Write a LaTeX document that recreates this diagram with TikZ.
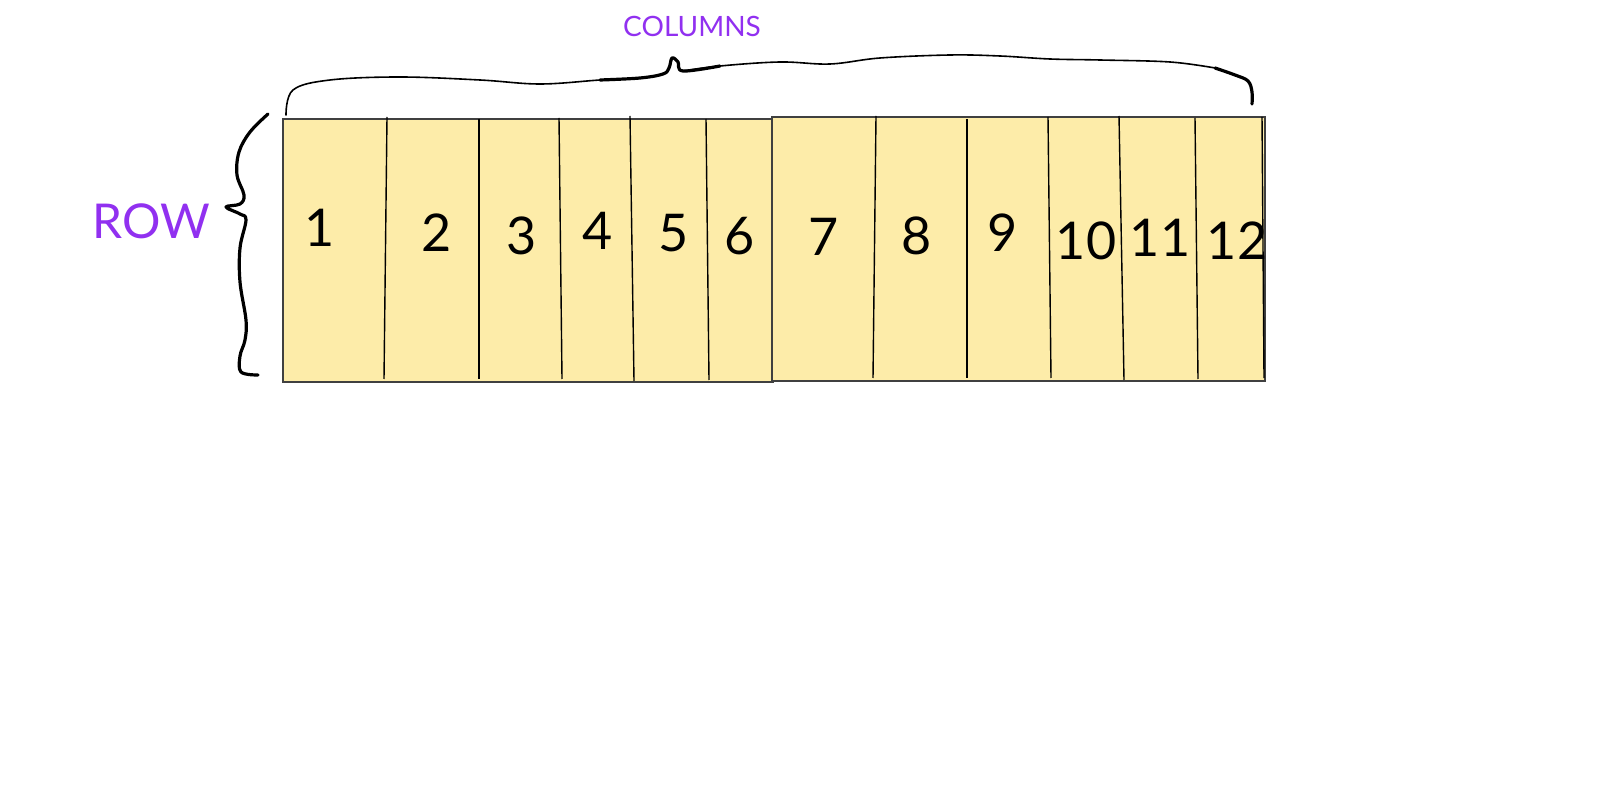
\documentclass[tikz,border=0pt]{standalone}
\usepackage{fontspec}
\setmainfont{Lato}
\definecolor{cellyellow}{HTML}{FDECA9}
\definecolor{labelpurple}{HTML}{9130F0}
\begin{document}
\begin{tikzpicture}[x=0.5pt,y=-0.5pt,
  cell/.style={fill=cellyellow,draw=black!75,line width=0.6pt},
  divider/.style={draw=black,line width=0.7pt},
  num/.style={font=\fontsize{26}{26}\selectfont,text=black,inner sep=0pt},
  lbl/.style={text=labelpurple,inner sep=0pt},
  brace/.style={draw=black,line width=0.8pt,line cap=round,line join=round},
  bracethick/.style={draw=black,line width=1.6pt,line cap=round,line join=round}]
\useasboundingbox (0,0) rectangle (1600,796);
% boxes
\path[cell] (283,119) rectangle (773,382);
\path[cell] (772,117) rectangle (1265,381);
% dividers
\draw[divider] (387,117) -- (384,379);
\draw[divider] (479,119) -- (479,379);
\draw[divider] (559,118) -- (562,379);
\draw[divider] (630,116) -- (634,381);
\draw[divider] (706,119) -- (709,380);
\draw[divider] (876,116) -- (873,378);
\draw[divider] (967,119) -- (967,378);
\draw[divider] (1048,117) -- (1051,378);
\draw[divider] (1119,116) -- (1124,380);
\draw[divider] (1195,118) -- (1198,379);
\draw[divider] (1262,117) -- (1264,378);
% numbers
\node[num] (n1) at (320,228) {1};
\node[num] (n2) at (437,233) {2};
\node[num] (n3) at (522,236) {3};
\node[num] (n4) at (598,231) {4};
\node[num] (n5) at (674,233) {5};
\node[num] (n6) at (740,236) {6};
\node[num] (n7) at (824,237) {7};
\node[num] (n8) at (917,236) {8};
\node[num] (n9) at (1003,233) {9};
\node[num] (n10) at (1086,241) {10};
\node[num] (n11) at (1160,238) {11};
\node[num] (n12) at (1237,241) {12};
% labels
\node[lbl,font=\fontsize{24}{24}\selectfont] (row) at (151,221) {ROW};
\node[lbl,font=\fontsize{14}{14}\selectfont] (cols) at (692,26) {COLUMNS};
% left brace
\draw[bracethick] plot[smooth,tension=0.6] coordinates {
 (268,114) (250,132) (239,152) (237,175) (244,195) (240,204) (226,207)
 (240,214) (246,220) (240,248) (240,282) (246,320) (245,340) (240,356) (241,372) (258,375)};
% top brace
\draw[brace] plot[smooth,tension=0.6] coordinates {
 (286,115) (293,90) (330,80) (400,77) (480,80) (540,84) (600,80) (640,78) (663,74) (669,68) (672,58)};
\draw[bracethick] plot[smooth,tension=0.6] coordinates {
 (600,80) (640,78) (663,74) (669,68) (672,58) (678,62) (683,71) (720,66)};
\draw[brace] plot[smooth,tension=0.6] coordinates {
 (683,71) (720,66) (780,62) (830,64) (880,58) (950,55) (1000,56) (1050,59) (1100,60) (1170,62) (1215,68)};
\draw[bracethick] plot[smooth,tension=0.6] coordinates {
 (1215,68) (1235,75) (1248,81) (1252,92) (1252,104)};
\end{tikzpicture}
\end{document}
